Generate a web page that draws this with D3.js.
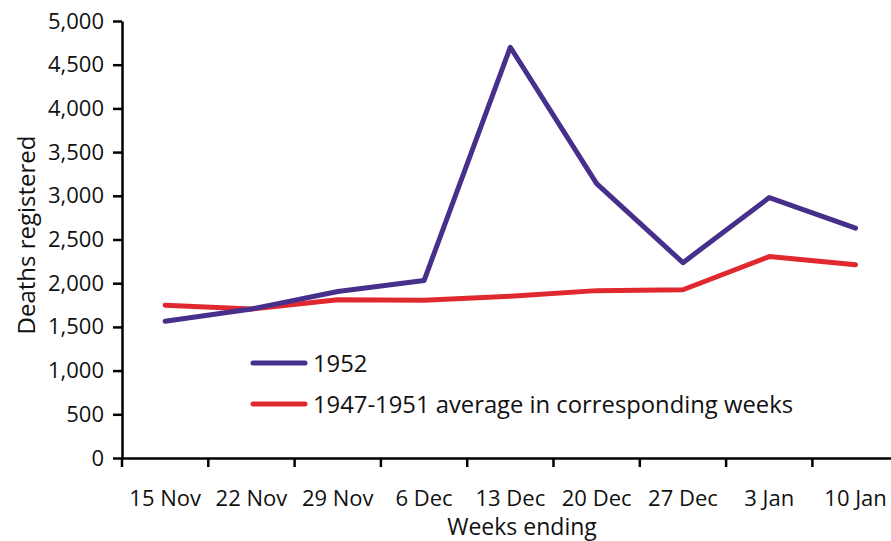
<!DOCTYPE html>
<html>
<head>
<meta charset="utf-8">
<script src="https://cdn.jsdelivr.net/npm/d3@7"></script>
<style>
  body { margin: 0; background: #fff; }
  text { font-family: "Open Sans", "Noto Sans", sans-serif; fill: #111; }
</style>
</head>
<body>
<script>
// weeks ending (x categories)
var weeks = ["15 Nov", "22 Nov", "29 Nov", "6 Dec", "13 Dec", "20 Dec", "27 Dec", "3 Jan", "10 Jan"];

// deaths registered
var deaths1952 = [1565, 1705, 1905, 2030, 4700, 3140, 2235, 2980, 2630];
var deathsAvg = [1748, 1705, 1810, 1805, 1850, 1915, 1925, 2305, 2210];

var yTicks = [0, 500, 1000, 1500, 2000, 2500, 3000, 3500, 4000, 4500, 5000];

var legendLabels = ["1952", "1947-1951 average in corresponding weeks"];
var colors = ["#46308c", "#e0282f"];

var width = 891,
    height = 541,
    margin = { left: 122, top: 21, bottom: 83 },
    bandW = 86.3;

var svg = d3.select("body").append("svg")
    .attr("width", width)
    .attr("height", height);

var x = d3.scaleBand()
    .domain(weeks)
    .range([margin.left, margin.left + bandW * weeks.length]);

var y = d3.scaleLinear()
    .domain([0, 5000])
    .range([height - margin.bottom, margin.top]);

var fmt = d3.format(",");

// y axis
var yAxis = svg.append("g")
    .attr("transform", "translate(" + margin.left + ",0)")
    .call(d3.axisLeft(y).tickValues(yTicks).tickFormat(fmt).tickSize(9).tickPadding(9).tickSizeOuter(0));

// x axis: labels centred in bands, ticks at band boundaries
var xAxis = svg.append("g")
    .attr("transform", "translate(0," + y(0) + ")")
    .call(d3.axisBottom(x).tickSize(0).tickPadding(32).tickSizeOuter(0));

xAxis.selectAll(".xtick")
    .data(weeks)
    .enter().append("line")
    .attr("class", "xtick")
    .attr("x1", function(d) { return x(d); })
    .attr("x2", function(d) { return x(d); })
    .attr("y1", 0)
    .attr("y2", 9)
    .attr("stroke", "#000");

svg.selectAll(".domain, .tick line, .xtick")
    .attr("stroke", "#000")
    .attr("stroke-width", 2.5);

svg.selectAll(".tick text")
    .style("font-size", "22px")
    .attr("fill", "#111");

// axis titles
svg.append("text")
    .attr("transform", "translate(35," + 235 + ") rotate(-90)")
    .attr("text-anchor", "middle")
    .style("font-size", "24px")
    .text("Deaths registered");

svg.append("text")
    .attr("x", 522)
    .attr("y", 535)
    .attr("text-anchor", "middle")
    .style("font-size", "23px")
    .text("Weeks ending");

// lines
var line = d3.line()
    .x(function(d, i) { return x(weeks[i]) + x.bandwidth() / 2; })
    .y(function(d) { return y(d); });

[deathsAvg, deaths1952].forEach(function(series, k) {
    svg.append("path")
        .datum(series)
        .attr("d", line)
        .attr("fill", "none")
        .attr("stroke", k === 0 ? colors[1] : colors[0])
        .attr("stroke-width", 5)
        .attr("stroke-linejoin", "round")
        .attr("stroke-linecap", "round");
});

// legend
var legend = svg.append("g")
    .attr("transform", "translate(253,363)");

legendLabels.forEach(function(label, i) {
    var g = legend.append("g").attr("transform", "translate(0," + (i * 41) + ")");
    g.append("line")
        .attr("x1", 0).attr("x2", 52)
        .attr("stroke", colors[i])
        .attr("stroke-width", 5)
        .attr("stroke-linecap", "round");
    g.append("text")
        .attr("x", 60)
        .attr("y", 8.5)
        .style("font-size", "23.8px")
        .text(label);
});
</script>
</body>
</html>
